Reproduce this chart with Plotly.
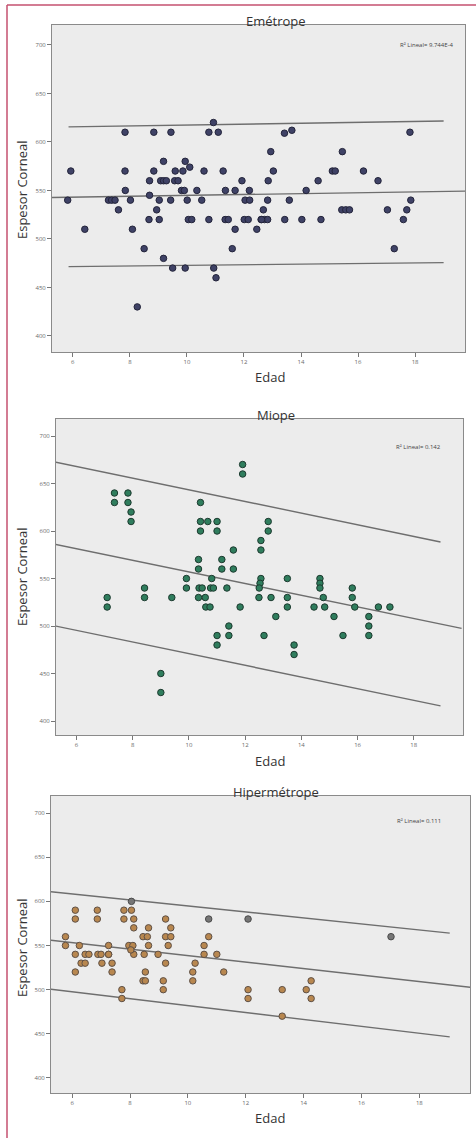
import plotly.graph_objects as go

# ---------------- DATA ----------------
# Emétrope
emet_edad = [5.93, 5.82, 6.42, 7.25, 7.36, 7.48, 7.6, 7.83, 7.83, 7.84, 8.02, 8.09, 8.26, 8.5,
             8.69, 8.69, 8.67, 8.84, 8.84, 8.94, 9.03, 9.03, 9.18, 9.08, 9.18, 9.28, 9.18, 9.44,
             9.43, 9.5, 9.57, 9.69, 9.59, 9.86, 9.81, 9.91, 9.94, 9.94, 10.1, 10.01, 10.05, 10.17,
             10.35, 10.52, 10.6, 10.77, 10.77, 10.93, 10.94, 11.02, 11.1, 11.27, 11.35, 11.34, 11.45,
             11.59, 11.69, 11.69, 11.93, 12.04, 12.2, 12.01, 12.15, 12.19, 12.45, 12.6, 12.72, 12.83,
             12.68, 12.85, 12.83, 12.94, 13.03, 13.42, 13.43, 13.59, 13.68, 14.03, 14.18, 14.6, 14.7,
             15.1, 15.2, 15.45, 15.43, 15.57, 15.7, 16.19, 16.7, 17.03, 17.27, 17.59, 17.71, 17.82,
             17.85, 12.62]
emet_espesor = [570, 540, 510, 540, 540, 540, 530, 610, 570, 550, 540, 510, 430, 490,
                560, 545, 520, 610, 570, 530, 540, 520, 580, 560, 560, 560, 480, 610,
                540, 470, 560, 560, 570, 570, 550, 550, 580, 470, 574, 540, 520, 520,
                550, 540, 570, 610, 520, 620, 470, 460, 610, 570, 550, 520, 520,
                490, 550, 510, 560, 540, 540, 520, 520, 550, 510, 520, 520, 520,
                530, 560, 540, 590, 570, 609, 520, 540, 612, 520, 550, 560, 520,
                570, 570, 590, 530, 530, 530, 570, 560, 530, 490, 520, 530, 610,
                540, 520]
emet_fit_x = [5.27, 19.75]
emet_fit_mid = [542.8, 549.3]
emet_int_x = [5.85, 19.0]
emet_int_sup = [615.5, 621.5]
emet_int_inf = [471.5, 475.6]

# Miope
miope_edad = [7.09, 7.09, 7.35, 7.35, 7.83, 7.83, 7.94, 7.94, 8.42, 8.42, 9.0, 9.0, 9.39,
              9.91, 9.91, 10.34, 10.34, 10.36, 10.47, 10.34, 10.58, 10.41, 10.41, 10.41,
              10.6, 10.75, 10.81, 10.77, 10.87, 10.67, 11.0, 11.0, 11.0, 11.0, 11.17, 11.17,
              11.35, 11.42, 11.42, 11.58, 11.58, 11.82, 11.91, 11.91, 12.56, 12.56, 12.56, 12.53,
              12.5, 12.49, 12.67, 12.82, 12.82, 12.92, 13.09, 13.5, 13.5, 13.5, 13.74, 13.74,
              14.45, 14.66, 14.66, 14.66, 14.78, 14.83, 15.16, 15.48, 15.81, 15.81, 15.9,
              16.4, 16.4, 16.4, 16.74, 17.15]
miope_espesor = [530, 520, 640, 630, 640, 630, 620, 610, 540, 530, 450, 430, 530,
                 550, 540, 570, 560, 540, 540, 530, 530, 630, 610, 600,
                 520, 520, 550, 540, 540, 610, 610, 600, 490, 480, 570, 560,
                 540, 500, 490, 580, 560, 520, 670, 660, 590, 580, 550, 545,
                 540, 530, 490, 610, 600, 530, 510, 550, 530, 520, 480, 470,
                 520, 550, 545, 540, 530, 520, 510, 490, 540, 530, 520,
                 510, 500, 490, 520, 520]
miope_fit_x = [5.25, 19.7]
miope_fit_mid = [586.0, 497.5]
miope_int_x = [5.25, 18.95]
miope_int_sup = [672.5, 588.5]
miope_int_inf = [500.0, 416.0]

# Hipermétrope
hiper_edad = [5.77, 5.77, 6.11, 6.11, 6.11, 6.11, 6.25, 6.31, 6.45, 6.45, 6.58, 6.89, 7.0,
              7.26, 6.87, 6.87, 7.03, 7.26, 7.26, 7.38, 7.38, 7.72, 7.72, 7.79, 7.79, 8.05,
              8.13, 8.13, 7.96, 8.1, 8.13, 8.03, 8.49, 8.45, 8.6, 8.64, 8.64, 8.53, 8.45, 8.53,
              8.97, 9.15, 9.15, 9.23, 9.23, 9.41, 9.32, 9.41, 9.23, 10.17, 10.17, 10.25,
              10.56, 10.56, 10.72, 11.0, 11.24, 12.08, 12.08, 13.26, 13.26, 14.09, 14.26, 14.26]
hiper_espesor = [560, 550, 590, 580, 540, 520, 550, 530, 530, 540, 540, 540, 540,
                 540, 590, 580, 530, 550, 540, 530, 520, 500, 490, 590, 580, 590,
                 580, 570, 550, 550, 540, 545, 540, 560, 560, 570, 550, 520, 510, 510,
                 540, 510, 500, 580, 560, 560, 550, 570, 530, 520, 510, 530,
                 550, 540, 560, 540, 520, 500, 490, 500, 470, 500, 510, 490]
hiper_gris_edad = [8.05, 10.72, 12.08, 17.02]
hiper_gris_espesor = [600, 580, 580, 560]
hiper_fit_x = [5.25, 19.8]
hiper_fit_mid = [556.0, 502.5]
hiper_int_x = [5.25, 19.05]
hiper_int_sup = [611.0, 564.0]
hiper_int_inf = [500.5, 446.5]

titulos = ["Emétrope", "Miope", "Hipermétrope"]
r2_textos = ["R² Lineal= 9.744E-4", "R² Lineal= 0.142", "R² Lineal= 0.111"]
x_ticks = [6, 8, 10, 12, 14, 16, 18]
y_ticks = [400, 450, 500, 550, 600, 650, 700]

# ---------------- FIGURE ----------------
W, H = 476, 1138
def py(p):
    return 1 - p / H
def px(p):
    return p / W

fig = go.Figure()

panels = [
    dict(x=emet_edad, y=emet_espesor, fx=emet_fit_x, fm=emet_fit_mid, ix=emet_int_x,
         iu=emet_int_sup, il=emet_int_inf, fill="#3f4266", line="#23243a",
         dom_x=[px(52), px(465)], dom_y=[py(352), py(25)], yr=[383.5, 720.5],
         title_y=21, edad_y=377, esp_y=190, r2=(455, 45)),
    dict(x=miope_edad, y=miope_espesor, fx=miope_fit_x, fm=miope_fit_mid, ix=miope_int_x,
         iu=miope_int_sup, il=miope_int_inf, fill="#2f7d5d", line="#1d3a2f",
         dom_x=[px(56), px(463)], dom_y=[py(735), py(419)], yr=[385.3, 717.9],
         title_y=415, edad_y=761, esp_y=577, r2=(443, 447)),
    dict(x=hiper_edad, y=hiper_espesor, fx=hiper_fit_x, fm=hiper_fit_mid, ix=hiper_int_x,
         iu=hiper_int_sup, il=hiper_int_inf, fill="#b8874f", line="#5e5046",
         dom_x=[px(51), px(470)], dom_y=[py(1093), py(796)], yr=[383.0, 719.3],
         title_y=792, edad_y=1118, esp_y=948, r2=(443, 821)),
]

axis_font = dict(family="Open Sans, Liberation Sans, sans-serif", size=6, color="#6a6a6a")
label_font = dict(family="Open Sans, Liberation Sans, sans-serif", size=13, color="#333333")

for i, p in enumerate(panels):
    n = "" if i == 0 else str(i + 1)
    xa, ya = "x" + n, "y" + n
    line_style = dict(color="#6e6e6e", width=1.4)
    fig.add_trace(go.Scatter(x=p["fx"], y=p["fm"], mode="lines", line=line_style,
                             xaxis=xa, yaxis=ya, showlegend=False, hoverinfo="skip"))
    fig.add_trace(go.Scatter(x=p["ix"], y=p["iu"], mode="lines", line=line_style,
                             xaxis=xa, yaxis=ya, showlegend=False, hoverinfo="skip"))
    fig.add_trace(go.Scatter(x=p["ix"], y=p["il"], mode="lines", line=line_style,
                             xaxis=xa, yaxis=ya, showlegend=False, hoverinfo="skip"))
    fig.add_trace(go.Scatter(x=p["x"], y=p["y"], mode="markers",
                             marker=dict(size=6.5, color=p["fill"], line=dict(color=p["line"], width=1)),
                             xaxis=xa, yaxis=ya, showlegend=False))
    if i == 2:
        fig.add_trace(go.Scatter(x=hiper_gris_edad, y=hiper_gris_espesor, mode="markers",
                                 marker=dict(size=6.5, color="#767676", line=dict(color="#4a4a4a", width=1)),
                                 xaxis=xa, yaxis=ya, showlegend=False))

    fig.update_layout(**{
        "xaxis" + n: dict(domain=p["dom_x"], anchor=ya, range=[5.27, 19.75],
                          tickvals=x_ticks, ticktext=[str(t) for t in x_ticks],
                          ticks="outside", ticklen=4, tickcolor="#777", tickfont=axis_font,
                          showgrid=False, zeroline=False, showline=True, linecolor="#8a8a8a",
                          linewidth=1, mirror=True, fixedrange=True),
        "yaxis" + n: dict(domain=p["dom_y"], anchor=xa, range=p["yr"],
                          tickvals=y_ticks, ticktext=[str(t) for t in y_ticks],
                          ticks="outside", ticklen=4, tickcolor="#777", tickfont=axis_font,
                          showgrid=False, zeroline=False, showline=True, linecolor="#8a8a8a",
                          linewidth=1, mirror=True, fixedrange=True),
    })

    fig.add_annotation(text=titulos[i], xref="paper", yref="paper", x=px(276), y=py(p["title_y"]),
                       showarrow=False, font=label_font, xanchor="center", yanchor="middle")
    fig.add_annotation(text="Edad", xref="paper", yref="paper", x=px(270), y=py(p["edad_y"]),
                       showarrow=False, font=label_font, xanchor="center", yanchor="middle")
    fig.add_annotation(text="Espesor Corneal", xref="paper", yref="paper", x=px(22), y=py(p["esp_y"]),
                       showarrow=False, font=label_font, textangle=-90,
                       xanchor="center", yanchor="middle")
    fig.add_annotation(text=r2_textos[i], xref="paper", yref="paper", x=px(p["r2"][0]), y=py(p["r2"][1]),
                       showarrow=False, xanchor="right", yanchor="middle",
                       font=dict(family="Open Sans, Liberation Sans, sans-serif", size=6, color="#444"))

# plot background rectangles
for p in panels:
    fig.add_shape(type="rect", xref="paper", yref="paper", layer="below",
                  x0=p["dom_x"][0], x1=p["dom_x"][1], y0=p["dom_y"][0], y1=p["dom_y"][1],
                  fillcolor="#ececec", line=dict(width=0))

# red page frame (top & left)
fig.add_shape(type="line", xref="paper", yref="paper", x0=px(7), x1=1, y0=py(5), y1=py(5),
              line=dict(color="#c4506f", width=1.5))
fig.add_shape(type="line", xref="paper", yref="paper", x0=px(7), x1=px(7), y0=0, y1=py(5),
              line=dict(color="#c4506f", width=1.5))

fig.update_layout(width=W, height=H, margin=dict(l=0, r=0, t=0, b=0),
                  paper_bgcolor="white", plot_bgcolor="rgba(0,0,0,0)")

fig.write_html("out.html", config={"displayModeBar": False})
